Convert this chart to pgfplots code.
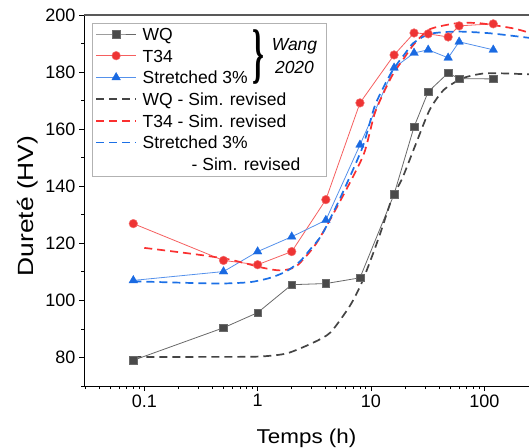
\documentclass[border=0pt]{standalone}
\usepackage{pgfplots}
\pgfplotsset{compat=1.18}
\usepackage{fontspec}
\setmainfont{Liberation Sans}
\newfontfamily\bracefont{Liberation Serif}
\usepackage{graphicx}

\definecolor{wqgray}{RGB}{74,74,74}
\definecolor{wqline}{RGB}{105,105,105}
\definecolor{tred}{RGB}{238,52,52}
\definecolor{tline}{RGB}{245,95,95}
\definecolor{sblue}{RGB}{26,106,226}
\definecolor{sline}{RGB}{85,145,235}
\definecolor{dgray}{RGB}{68,68,68}
\definecolor{dred}{RGB}{250,48,48}
\definecolor{dblue}{RGB}{28,112,230}

\begin{document}
\begin{tikzpicture}
\begin{axis}[
  scale only axis,
  width=445pt, height=371pt,
  xmode=log,
  xmin=0.02938, xmax=248,
  ymin=70, ymax=200,
  axis x line=bottom, axis y line=left,
  axis line style={-, black, line width=0.9pt},
  tick align=outside,
  major tick length=5pt, minor tick length=3pt,
  tick style={black, line width=0.8pt},
  log ticks with fixed point,
  ytick={80,100,...,200},
  minor ytick={70,90,...,190},
  every tick label/.append style={font=\fontsize{18}{18}\selectfont},
  /pgf/number format/assume math mode=true,
  xlabel={\scalebox{1.12}[1]{\fontsize{20}{20}\selectfont Temps (h)}},
  ylabel={\scalebox{1.2}[1]{\fontsize{22}{22}\selectfont Dureté (HV)}},
  xlabel style={at={(axis description cs:0.5,-0.155)}, anchor=base},
  ylabel style={at={(axis description cs:-0.1146,0.485)}, anchor=base},
  legend cell align=left,
  legend image code/.code={\draw[mark repeat=2,mark phase=2] plot coordinates {(0pt,0.8pt) (20pt,0.8pt) (40pt,0.8pt)};},
  legend style={
    at={(axis description cs:0,1)}, anchor=north west,
    xshift=8pt, yshift=-8pt,
    draw=gray!60, line width=0.6pt, fill=white,
    font=\fontsize{17.5}{17.5}\selectfont,
    inner xsep=3pt, inner ysep=4pt,
    row sep=6.7pt, column sep=5.7pt,
    nodes={inner sep=0pt, text height=13pt, text depth=2pt},
  },
]
\coordinate (bl) at (rel axis cs:0,0);
\coordinate (tl) at (rel axis cs:0,1);
\coordinate (tr) at (rel axis cs:1,1);

% Wang 2020 data
\addplot[wqline, line width=0.8pt, mark=square*, mark size=3.8pt,
  mark options={solid, fill=wqgray, draw=gray!60!wqgray, line width=0.5pt}]
  coordinates {
  (0.08,79.0) (0.5,90.4) (1,95.7) (2,105.5) (4,105.9) (8,107.9)
  (16,137.2) (24,160.8) (32,173.1) (48,179.7) (60,177.7) (120,177.6)
};
\addlegendentry{WQ}
\addplot[tline, line width=0.8pt, mark=*, mark size=4.3pt,
  mark options={solid, fill=tred, draw=tred!70!white, line width=0.5pt}]
  coordinates {
  (0.08,126.9) (0.5,114.0) (1,112.5) (2,117.1) (4,135.3) (8,169.2)
  (16,186.0) (24,193.7) (32,193.4) (48,192.3) (60,196.2) (120,196.9)
};
\addlegendentry{T34}
\addplot[sline, line width=0.8pt, mark=triangle*, mark size=5pt,
  mark options={solid, fill=sblue, draw=sblue, line width=0.3pt}]
  coordinates {
  (0.08,107.0) (0.5,110.1) (1,117.1) (2,122.3) (4,128.1) (8,154.5)
  (16,181.5) (24,186.7) (32,187.8) (48,185.0) (60,190.6) (120,187.8)
};
\addlegendentry{Stretched 3\%}

% simulations
\addplot[dgray, line width=1.7pt, dash pattern=on 8pt off 5pt, smooth, tension=0.4]
  coordinates {
  (0.08,80.2) (0.3,80.2) (1,80.3) (1.8,81.4) (3.1,85.2) (4.4,88.8)
  (6.5,98.0) (8.3,106.2) (10.5,116.7) (12.4,124.8) (15.2,135.3) (19,143.0)
  (25,155.0) (33,166.8) (44,173.8) (65,177.9) (105,179.6) (248,179.2)
};
\addlegendentry{WQ - Sim. revised}
\addplot[dred, line width=1.7pt, dash pattern=on 8pt off 5pt, smooth, tension=0.4]
  coordinates {
  (0.1,118.4) (0.29,116.1) (0.57,114.3) (1.12,111.4) (1.6,110.5) (2.2,112.0)
  (3.3,120.0) (5.3,134.5) (8.6,151.0) (10.9,166.0) (15.2,178.4) (20,185.4)
  (24,189.8) (33,195.0) (57,197.1) (92,197.1) (181,195.3) (248,193.8)
};
\addlegendentry{T34 - Sim. revised}
\addplot[dblue, line width=1.7pt, dash pattern=on 8pt off 5pt, smooth, tension=0.4]
  coordinates {
  (0.08,106.7) (0.21,106.2) (0.47,105.9) (0.86,106.4) (1.29,107.9) (1.8,110.2)
  (2.37,113.7) (2.9,117.8) (3.7,123.1) (5.3,135.5) (8.4,153.5) (10.9,168.5)
  (15.2,180.0) (20,186.5) (23.7,190.2) (33,193.4) (57,194.2) (112,193.6) (248,192.0)
};
\addlegendentry{Stretched 3\%}
\addlegendimage{empty legend}
\addlegendentry{\makebox[181pt][l]{\hspace*{49pt}- Sim. revised}}
\end{axis}
\draw[gray!70!black, line width=2pt] (tl) -- (tr);
\node[inner sep=0pt] at ([shift={(174pt,-42pt)}]tl)
  {\scalebox{1}[2.2]{\bracefont\bfseries\fontsize{30}{30}\selectfont\}}};
\node[align=center, font=\fontsize{17.5}{23}\selectfont\itshape]
  at ([shift={(210.5pt,-41.5pt)}]tl) {Wang\\2020};
\pgfresetboundingbox
\path ([shift={(-84pt,-61pt)}]bl) rectangle ([shift={(0pt,15pt)}]tr);
\end{tikzpicture}
\end{document}
